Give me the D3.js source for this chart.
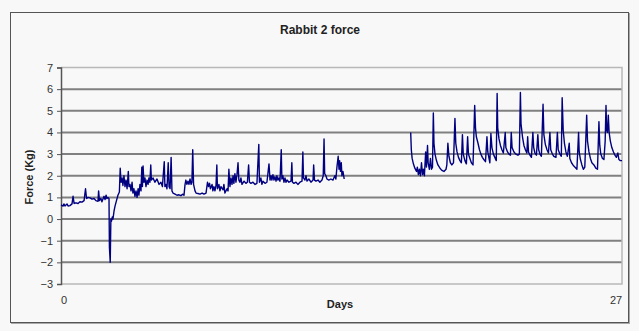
<!DOCTYPE html>
<html>
<head>
<meta charset="utf-8">
<script src="https://cdn.jsdelivr.net/npm/d3@7"></script>
<style>
  body { margin: 0; background: #f8f8f8; }
  text { font-family: "Liberation Sans", Arial, sans-serif; }
</style>
</head>
<body>
<div id="chart"></div>
<script>
// values (days, force in kg)
const daysA = [0.00,0.10,0.14,0.19,0.29,0.34,0.43,0.53,0.58,0.63,0.72,0.82,0.91,1.01,1.11,1.18,1.23,1.30,1.40,1.49,1.59,1.68,1.78,1.81,1.85,1.92,1.97,2.07,2.12,2.17,2.21,2.26,2.31,2.33,2.37,2.40,2.43,2.47,2.50,2.55,2.60,2.67,2.74,2.81,2.85,2.89,2.94,2.98,3.03,3.08,3.13,3.18,3.24,3.27,3.32,3.37,3.42,3.46,3.51,3.56,3.61,3.66,3.71,3.75,3.80,3.85,3.89,3.92,3.95,3.99,4.04,4.09,4.14,4.19,4.23,4.28,4.32,4.35,4.43,4.52,4.62,4.72,4.81,4.88,4.97,5.00,5.05,5.10,5.16,5.20,5.25,5.30,5.34,5.39,5.49,5.58,5.68,5.77,5.87,5.92,5.97,6.01,6.06,6.11,6.16,6.21,6.26,6.30,6.34,6.38,6.45,6.50,6.59,6.69,6.79,6.88,6.98,7.05,7.10,7.15,7.19,7.27,7.31,7.36,7.41,7.46,7.50,7.53,7.60,7.65,7.70,7.80,7.84,7.89,7.99,8.04,8.08,8.13,8.18,8.23,8.28,8.32,8.37,8.42,8.47,8.52,8.56,8.61,8.66,8.71,8.81,8.90,8.97,9.03,9.07,9.14,9.24,9.34,9.43,9.52,9.55,9.62,9.67,9.72,9.82,9.91,10.01,10.06,10.11,10.15,10.20,10.25,10.30,10.35,10.39,10.44,10.49,10.54,10.60,10.63,10.68,10.73,10.78,10.83,10.88,10.97,11.07,11.11,11.14,11.21,11.31,11.40,11.50,11.60,11.64,11.67,11.74,11.79,11.84,11.93,12.03,12.13,12.16,12.20,12.27,12.37,12.46,12.56,12.62,12.66,12.69,12.75,12.80,12.89,12.99,13.09,13.18,13.23,13.28,13.34,13.38,13.41,13.45,13.49,13.52,13.57,13.63];
const forceA = [0.65,0.6,0.7,0.6,0.7,0.6,0.62,0.7,1.05,0.72,0.75,0.72,0.8,0.78,0.85,1.4,0.95,1.0,0.98,0.92,0.95,0.85,0.82,1.3,0.85,0.95,0.8,1.05,0.9,1.1,0.95,1.0,0.95,-1.3,-2.0,0.0,-0.1,0.1,0.0,0.35,0.6,0.85,1.1,1.25,2.35,1.7,1.9,1.55,2.0,1.5,1.8,1.4,2.2,1.5,1.6,1.3,1.7,1.2,1.4,1.05,1.3,1.0,1.4,1.1,1.6,1.3,2.4,1.5,2.45,1.7,1.9,1.5,1.8,1.6,1.9,1.7,2.5,1.8,1.9,1.7,1.85,1.6,1.7,1.5,2.65,1.5,1.6,1.4,2.6,1.5,1.4,2.85,1.3,1.2,1.15,1.1,1.12,1.08,1.15,1.1,1.6,1.8,1.6,1.75,1.6,1.85,1.6,1.7,3.2,1.6,1.3,1.2,1.18,1.15,1.2,1.15,1.2,1.7,1.5,1.65,1.4,1.6,1.3,1.5,1.3,1.55,2.5,1.4,1.6,1.3,1.5,1.35,1.6,1.2,1.4,1.3,2.3,1.5,1.9,1.6,2.0,1.65,2.1,1.7,2.05,2.6,1.8,1.7,1.9,1.6,1.75,1.65,1.7,2.5,1.7,1.65,1.7,1.6,1.65,3.45,1.7,1.9,1.6,1.75,1.65,1.7,2.55,1.8,2.0,1.8,2.05,1.8,1.95,1.75,2.0,1.8,1.9,1.75,3.2,1.85,2.0,1.7,1.9,1.7,1.8,1.7,1.75,2.6,1.7,1.65,1.7,1.6,1.7,1.75,3.1,1.9,1.8,2.0,1.75,1.85,1.7,1.8,2.5,1.8,1.75,1.8,1.7,1.8,2.0,3.7,2.1,2.0,1.85,1.8,1.85,1.8,2.0,1.85,2.4,2.9,2.3,2.7,2.2,2.6,2.0,2.2,1.85];

const daysB = [16.83,16.86,16.90,16.96,17.03,17.11,17.15,17.20,17.25,17.30,17.35,17.40,17.44,17.49,17.55,17.59,17.64,17.67,17.73,17.78,17.83,17.88,17.92,17.95,18.00,18.07,18.14,18.24,18.33,18.43,18.53,18.57,18.62,18.67,18.74,18.81,18.89,18.96,19.00,19.06,19.13,19.20,19.27,19.32,19.36,19.44,19.51,19.57,19.61,19.68,19.75,19.83,19.91,19.95,19.99,20.07,20.14,20.21,20.28,20.35,20.43,20.50,20.54,20.60,20.64,20.69,20.74,20.81,20.88,20.95,20.99,21.02,21.08,21.15,21.22,21.29,21.38,21.41,21.49,21.56,21.63,21.67,21.71,21.80,21.89,21.99,22.06,22.11,22.14,22.21,22.28,22.35,22.42,22.46,22.50,22.57,22.64,22.71,22.75,22.81,22.88,22.95,22.99,23.05,23.12,23.20,23.24,23.31,23.39,23.46,23.53,23.57,23.65,23.72,23.82,23.89,23.93,24.01,24.08,24.12,24.17,24.23,24.30,24.37,24.46,24.49,24.57,24.64,24.73,24.83,24.91,24.94,25.00,25.07,25.14,25.21,25.30,25.34,25.41,25.48,25.55,25.65,25.74,25.82,25.89,25.93,25.98,26.06,26.13,26.19,26.23,26.26,26.30,26.34,26.38,26.44,26.51,26.59,26.66,26.73,26.80,26.85,26.92,27.00];
const forceB = [4.0,3.2,2.8,2.55,2.35,2.2,2.4,2.05,2.3,2.0,2.6,2.05,2.3,2.0,3.1,2.4,3.4,2.6,2.3,2.8,2.3,2.4,4.9,3.5,3.0,2.7,2.5,2.35,2.25,2.2,2.3,2.5,3.5,2.9,2.6,2.5,2.6,4.65,3.5,3.1,2.85,2.7,2.6,3.9,3.0,2.7,2.55,3.8,3.0,2.8,2.6,2.5,5.25,4.2,3.8,3.5,3.2,3.0,2.85,2.75,2.65,3.8,3.1,2.8,2.6,3.95,3.3,3.0,2.85,2.7,5.8,4.2,3.7,3.4,3.2,3.05,4.0,3.3,3.1,3.0,2.95,4.0,3.3,3.1,3.0,2.95,3.0,5.85,4.4,3.8,3.4,3.2,3.05,3.8,3.1,2.95,2.85,4.0,3.3,3.05,2.95,3.9,3.2,3.0,2.9,5.3,3.9,3.45,3.2,3.05,4.0,3.2,3.0,2.9,2.85,4.0,3.2,3.0,2.9,5.6,4.1,3.5,3.1,2.9,3.5,2.8,2.6,2.5,2.4,2.3,4.0,3.1,2.75,2.5,2.3,2.4,4.8,3.6,3.1,2.8,2.6,2.5,2.35,2.3,4.5,3.4,3.0,2.8,2.75,3.6,5.25,4.1,4.0,4.8,4.0,3.6,3.3,3.1,2.95,2.85,3.05,2.75,2.7,2.7];

const yTicks = [-3,-2,-1,0,1,2,3,4,5,6,7];
const xTickLabels = [0, 27];

const width = 639, height = 331;
const plot = {left: 61, right: 622, top: 67.5, bottom: 284};

const svg = d3.select("#chart").append("svg")
    .attr("width", width)
    .attr("height", height);

svg.append("rect")
    .attr("width", width).attr("height", height)
    .attr("fill", "#f8f8f8");

// chart frame with a little shadow on right and bottom
svg.append("rect")
    .attr("x", 11.5).attr("y", 13.5)
    .attr("width", 618).attr("height", 310)
    .attr("fill", "none").attr("stroke", "#a8a8a8");
svg.append("rect")
    .attr("x", 10.5).attr("y", 12.5)
    .attr("width", 618).attr("height", 310)
    .attr("fill", "#f8f8f8").attr("stroke", "#555");

const x = d3.scaleLinear().domain([0, 27]).range([plot.left, plot.right]);
const y = d3.scaleLinear().domain([-3, 7]).range([plot.bottom, plot.top]);

// gridlines
svg.append("g")
    .selectAll("line")
    .data(yTicks.filter(d => d > -3 && d < 7))
    .join("line")
    .attr("x1", plot.left).attr("x2", plot.right)
    .attr("y1", d => y(d)).attr("y2", d => y(d))
    .attr("stroke", "#808080")
    .attr("stroke-width", 2);

// top and right border of plot area
svg.append("path")
    .attr("d", `M${plot.left},${y(7)}H${plot.right}V${plot.bottom}H${plot.left}`)
    .attr("fill", "none")
    .attr("stroke", "#b8b8b8")
    .attr("stroke-width", 1.5);

// left axis
const yAxis = svg.append("g")
    .attr("transform", `translate(${plot.left},0)`)
    .call(d3.axisLeft(y).tickValues(yTicks).tickSize(4).tickPadding(4).tickFormat(d3.format("d")));
yAxis.select(".domain").attr("stroke", "#555").attr("stroke-width", 1.5);
yAxis.selectAll(".tick line").attr("stroke", "#555");
yAxis.selectAll("text")
    .attr("font-family", "Liberation Sans, Arial, sans-serif")
    .attr("font-size", 11)
    .attr("fill", "#333");

// x labels (only ends)
svg.append("g")
    .selectAll("text")
    .data(xTickLabels)
    .join("text")
    .attr("x", d => d === 0 ? x(d) + 3 : x(d) - 6)
    .attr("y", 304)
    .attr("text-anchor", "middle")
    .attr("font-size", 11)
    .attr("fill", "#333")
    .text(d => d);

// data lines
const line = d3.line()
    .x(d => x(d[0]))
    .y(d => y(d[1]));

[[daysA, forceA], [daysB, forceB]].forEach(([ds, fs]) => {
    svg.append("path")
        .datum(ds.map((d, i) => [d, fs[i]]))
        .attr("d", line)
        .attr("fill", "none")
        .attr("stroke", "#000080")
        .attr("stroke-width", 1.4)
        .attr("stroke-linejoin", "round");
});

// titles
svg.append("text")
    .attr("x", 320).attr("y", 34)
    .attr("text-anchor", "middle")
    .attr("font-size", 12)
    .attr("font-weight", "bold")
    .attr("fill", "#222")
    .text("Rabbit 2 force");

svg.append("text")
    .attr("x", 340).attr("y", 308)
    .attr("text-anchor", "middle")
    .attr("font-size", 11)
    .attr("font-weight", "bold")
    .attr("fill", "#222")
    .text("Days");

svg.append("text")
    .attr("transform", "translate(33,177) rotate(-90)")
    .attr("text-anchor", "middle")
    .attr("font-size", 11)
    .attr("font-weight", "bold")
    .attr("fill", "#222")
    .text("Force (Kg)");
</script>
</body>
</html>
